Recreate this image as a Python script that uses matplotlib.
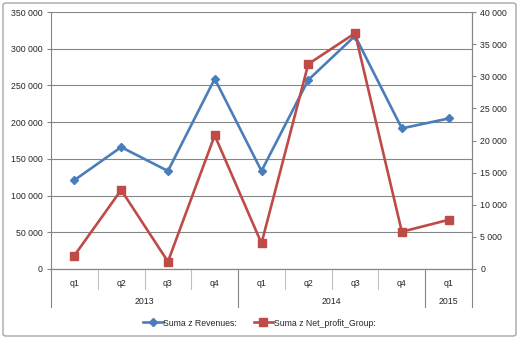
import numpy as np
import matplotlib
matplotlib.use("Agg")
import matplotlib.pyplot as plt
from matplotlib.patches import FancyBboxPatch
from matplotlib.ticker import FuncFormatter, MultipleLocator

# data
quarters = ["q1", "q2", "q3", "q4", "q1", "q2", "q3", "q4", "q1"]
years = ["2013", "2013", "2013", "2013", "2014", "2014", "2014", "2014", "2015"]
revenues = [121000, 166000, 133500, 259000, 133500, 257500, 317500, 191500, 205000]
net_profit = [2100, 12300, 1150, 20800, 4000, 31900, 36700, 5800, 7650]

blue = "#4A7EBB"
red = "#BE4B48"
grid_col = "#868686"
txt_col = "#262626"

plt.rcParams["font.family"] = ["Liberation Sans", "DejaVu Sans"]
plt.rcParams["font.size"] = 6.3

fig = plt.figure(figsize=(5.19, 3.39), dpi=100)
ax = fig.add_axes([51 / 519, 1 - 269 / 339, (472 - 51) / 519, (269 - 12) / 339])
ax2 = ax.twinx()

x = np.arange(len(quarters))
ax.plot(x, revenues, color=blue, lw=1.9, marker="D", ms=4.5, mfc=blue, mec=blue,
        label="Suma z Revenues:", zorder=3)
ax2.plot(x, net_profit, color=red, lw=1.9, marker="s", ms=5.5, mfc=red, mec=red,
         label="Suma z Net_profit_Group:", zorder=3)

thousands = FuncFormatter(lambda v, p: f"{int(v):,}".replace(",", " "))

ax.set_xlim(-0.5, len(quarters) - 0.5)
ax.set_ylim(0, 350000)
ax.yaxis.set_major_locator(MultipleLocator(50000))
ax.yaxis.set_major_formatter(thousands)
ax2.set_ylim(0, 40000)
ax2.yaxis.set_major_locator(MultipleLocator(5000))
ax2.yaxis.set_major_formatter(thousands)

ax.grid(axis="y", color=grid_col, lw=0.8)
ax.set_axisbelow(True)
ax.set_xticks([])

for a in (ax, ax2):
    a.spines["top"].set_visible(False)
    for s in ("left", "right", "bottom"):
        a.spines[s].set_color(grid_col)
        a.spines[s].set_linewidth(0.8)
    a.tick_params(axis="y", colors=txt_col, length=3, width=0.8, color=grid_col, pad=3)
ax2.spines["left"].set_visible(False)

# category labels (two levels)
trans = ax.get_xaxis_transform()
for i, q in enumerate(quarters):
    ax.text(i, -0.055, q, transform=trans, ha="center", va="center", color=txt_col)
# year groups
bounds = [0]
for i in range(1, len(years)):
    if years[i] != years[i - 1]:
        bounds.append(i)
bounds.append(len(years))
for a, b in zip(bounds[:-1], bounds[1:]):
    ax.text((a + b - 1) / 2, -0.128, years[a], transform=trans, ha="center", va="center",
            color=txt_col)
for i in range(len(quarters) + 1):
    long = i in bounds
    ax.plot([i - 0.5, i - 0.5], [0, -0.148 if long else -0.078], transform=trans,
            color=grid_col if long else "#BFBFBF", lw=0.8, clip_on=False)

h1, l1 = ax.get_legend_handles_labels()
h2, l2 = ax2.get_legend_handles_labels()
fig.legend(h1 + h2, l1 + l2, loc="center", bbox_to_anchor=(0.5, 1 - 323 / 339), ncol=2,
           frameon=False, handlelength=2.2, columnspacing=1.9, handletextpad=0.1,
           labelcolor=txt_col)

fig.patches.append(FancyBboxPatch((3 / 519, 3 / 339), 513 / 519, 333 / 339,
                                  boxstyle="round,pad=0,rounding_size=0.006",
                                  transform=fig.transFigure, fill=False,
                                  ec="#A6A6A6", lw=1.0))

fig.savefig("out.png", dpi=100)
